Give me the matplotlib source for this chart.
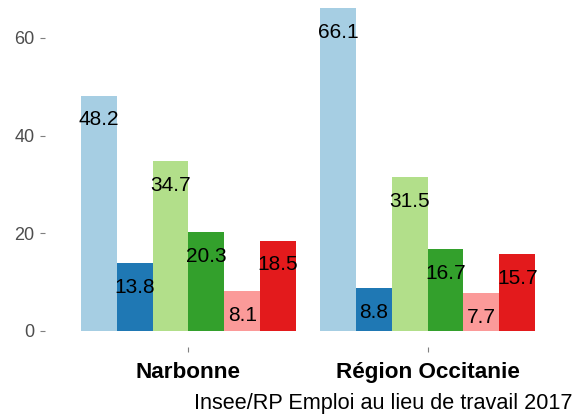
import numpy as np
import matplotlib
matplotlib.use("Agg")
import matplotlib.pyplot as plt

plt.rcParams['font.family'] = ['Liberation Sans', 'DejaVu Sans']

# data
zones = ["Narbonne", "Région Occitanie"]
colors = ["#A6CEE3", "#1F78B4", "#B2DF8A", "#33A02C", "#FB9A99", "#E31A1C"]
narbonne = [48.2, 13.8, 34.7, 20.3, 8.1, 18.5]
occitanie = [66.1, 8.8, 31.5, 16.7, 7.7, 15.7]
yticks = [0, 20, 40, 60]
caption = "Insee/RP Emploi au lieu de travail 2017"

values = np.array([narbonne, occitanie])
n = values.shape[1]
dodge = 0.9
width = dodge / n
xpos = np.arange(1, len(zones) + 1)

fig = plt.figure(figsize=(5.74, 4.15), dpi=100)
ax = fig.add_axes([45 / 574, 68 / 415, 526 / 574, 355 / 415])

for j in range(n):
    xs = xpos - dodge / 2 + width * (j + 0.5)
    ax.bar(xs, values[:, j], width=width, color=colors[j], edgecolor="none")
    for x, v in zip(xs, values[:, j]):
        ax.annotate(f"{v:.1f}", (x, v), xytext=(0, -17.5), textcoords="offset points",
                    ha="center", va="center", fontsize=15, color="black")

ax.set_xlim(0.4, 2.6)
ax.set_ylim(-3.305, 69.405)
ax.set_xticks(xpos)
ax.set_xticklabels(zones, fontsize=16.2, fontweight="bold", color="black")
ax.set_yticks(yticks)
ax.set_yticklabels([str(t) for t in yticks], fontsize=13, color="#4D4D4D")
ax.tick_params(axis="both", length=3.5, width=0.8, color="#7f7f7f")
ax.tick_params(axis="y", pad=4)
ax.tick_params(axis="x", pad=7)
for s in ax.spines.values():
    s.set_visible(False)

fig.text(572 / 574, 1 - 403 / 415, caption, ha="right", va="center", fontsize=15.6, color="black")

fig.savefig("out.png", dpi=100)
